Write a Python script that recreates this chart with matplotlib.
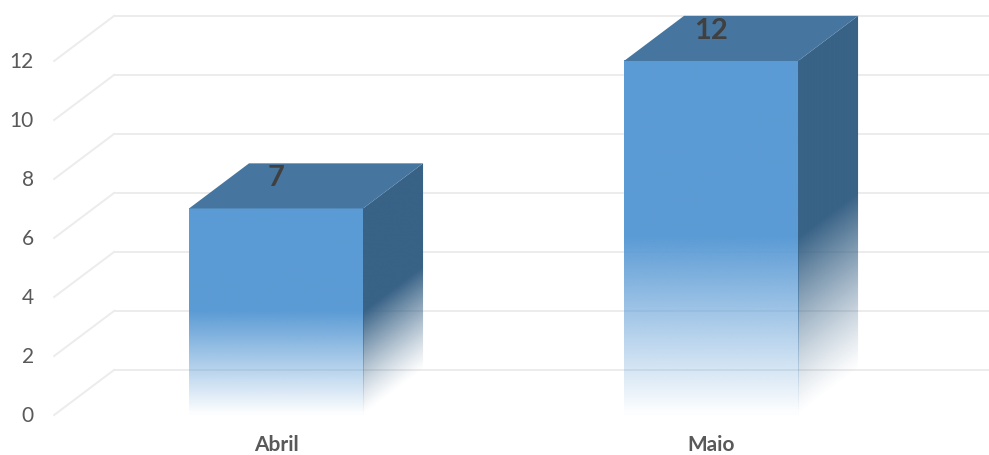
import matplotlib
matplotlib.use("Agg")
import matplotlib.pyplot as plt
from matplotlib.patches import Polygon
import numpy as np

plt.rcParams['font.family'] = ['Lato', 'DejaVu Sans']

# 数据
categories = ["Abril", "Maio"]
values = [7, 12]
y_ticks = [0, 2, 4, 6, 8, 10, 12]

FRONT = "#5B9BD5"
TOP = "#46769F"
SIDE = "#386286"
GRID = "#ECECEC"

BAR_W = 0.4      # 柱宽（类别单位）
DX = 0.138       # 深度偏移 x
DY = 1.53        # 深度偏移 y（数值单位）
LEFT, RIGHT = -0.51, 1.5

fig = plt.figure(figsize=(9.89, 4.56), dpi=100)
ax = fig.add_axes([0, 0, 1, 1])
ax.set_xlim(-0.6345, 1.639)
ax.set_ylim(-1.356, 14.10)
ax.axis('off')


def rgba(hex_color, alpha):
    c = np.array(matplotlib.colors.to_rgb(hex_color))
    out = np.zeros(alpha.shape + (4,))
    out[..., :3] = c
    out[..., 3] = alpha
    return out


# 网格线：背墙横线 + 左侧斜线
for t in y_ticks:
    ax.plot([LEFT + DX, RIGHT + DX], [t + DY, t + DY], color=GRID, lw=1.4, zorder=1)
    ax.plot([LEFT, LEFT + DX], [t, t + DY], color=GRID, lw=1.4, zorder=1)
    ax.text(0.034, t, str(t), transform=ax.get_yaxis_transform(),
            ha='right', va='center', fontsize=15, color="#595959")

# 3D 柱
for i, v in enumerate(values):
    x0, x1 = i - BAR_W / 2, i + BAR_W / 2

    # 正面，下半部分渐隐
    ys = np.linspace(0, 1, 300)
    a = np.clip(ys / 0.5, 0, 1)
    a = np.maximum(a, 0.02)
    img = rgba(FRONT, a[:, None])
    ax.imshow(img, extent=(x0, x1, 0, v), origin='lower', aspect='auto',
              interpolation='bilinear', zorder=3)

    # 侧面
    side = Polygon([(x1, 0), (x1 + DX, DY), (x1 + DX, v + DY), (x1, v)],
                   closed=True, facecolor='none', edgecolor='none',
                   transform=ax.transData)
    ax.add_patch(side)
    nx, ny = 60, 400
    xs = np.linspace(x1, x1 + DX, nx)
    yy = np.linspace(0, v + DY, ny)
    X, Y = np.meshgrid(xs, yy)
    h = (Y - (X - x1) / DX * DY) / v
    a2 = np.clip(h / 0.5, 0, 1) ** 1.2
    img2 = rgba(SIDE, a2)
    im2 = ax.imshow(img2, extent=(x1, x1 + DX, 0, v + DY), origin='lower',
                    aspect='auto', interpolation='bilinear', zorder=3)
    im2.set_clip_path(side)

    # 顶面
    top = Polygon([(x0, v), (x0 + DX, v + DY), (x1 + DX, v + DY), (x1, v)],
                  closed=True, facecolor=TOP, edgecolor='none', zorder=4)
    ax.add_patch(top)

    # 数值标签
    ax.text(i, v + 1.05, str(v), ha='center', va='center', fontsize=21,
            fontweight='bold', color="#404040", zorder=5)

    # 类别标签
    ax.text(i, -1.0, categories[i], ha='center', va='center', fontsize=15,
            fontweight='bold', color="#595959")

fig.savefig("out.png", dpi=100)
